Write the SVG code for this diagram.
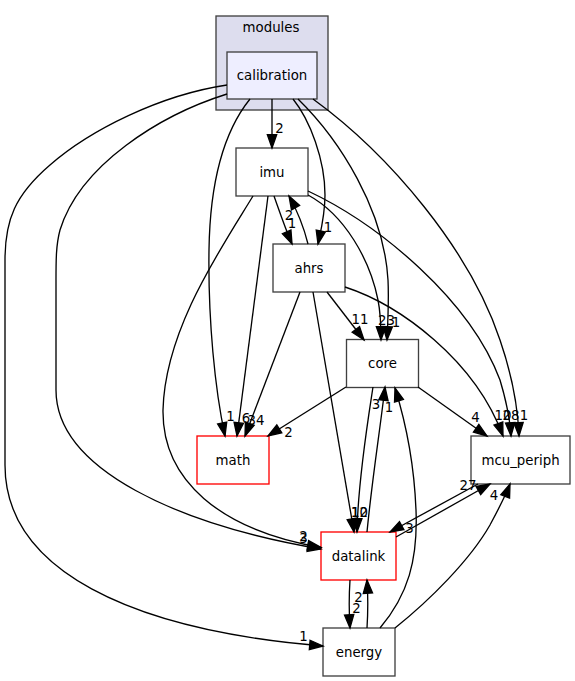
<svg xmlns="http://www.w3.org/2000/svg" width="575" height="681" viewBox="0 0 575 681">
<defs>
<marker id="ah" markerUnits="userSpaceOnUse" markerWidth="16" markerHeight="12" refX="13.33" refY="4.67" orient="auto" overflow="visible">
<path d="M0,0 L13.33,4.67 L0,9.33 z" fill="#000" stroke="#000" stroke-width="1.33"/>
</marker>
</defs>
<style>
.e{fill:none;stroke:#000;stroke-width:1.33;marker-end:url(#ah)}
.n{fill:#fff;stroke:#404040;stroke-width:1.33}
.r{fill:#fff;stroke:#ff0000;stroke-width:1.33}
text{font-family:"DejaVu Sans",sans-serif;font-size:13.33px;fill:#000;text-anchor:middle}
</style>
<rect x="0" y="0" width="575" height="681" fill="#fff"/>
<g id="cluster-modules">
<rect x="216" y="16" width="112" height="94" fill="#ddddee" stroke="#404040" stroke-width="1.33"/>
<text x="271" y="32">modules</text>
</g>
<g id="node-calibration">
<rect x="227" y="52" width="90" height="47" fill="#eeeeff" stroke="#404040" stroke-width="1.33"/>
<text x="272" y="80">calibration</text>
</g>
<g id="node-imu"><rect class="n" x="236" y="148" width="72" height="48"/><text x="272" y="176.5">imu</text></g>
<g id="node-ahrs"><rect class="n" x="273" y="244" width="72" height="48"/><text x="309" y="272.5">ahrs</text></g>
<g id="node-core"><rect class="n" x="346.5" y="339.5" width="72" height="48"/><text x="382.5" y="368">core</text></g>
<g id="node-math"><rect class="r" x="197" y="436" width="72" height="48"/><text x="233" y="464.5">math</text></g>
<g id="node-mcu_periph"><rect class="n" x="471" y="436" width="99" height="48"/><text x="520.5" y="464.5">mcu_periph</text></g>
<g id="node-datalink"><rect class="r" x="321" y="532" width="75" height="48"/><text x="358.5" y="560.5">datalink</text></g>
<g id="node-energy"><rect class="n" x="323" y="628" width="72" height="48"/><text x="359" y="656.5">energy</text></g>
<g id="edges">
<path class="e" d="M272,99 L272,148"/><text x="279.5" y="133">2</text>
<path class="e" d="M293,99 C310,120 325,160 325,195 C325,215 321,230 318,244"/><text x="328" y="232">1</text>
<path class="e" d="M298,99 C340,140 384,210 388,280 C389,300 388,320 387,340"/><text x="396" y="327">1</text>
<path class="e" d="M313,99 C390,155 470,250 500,340 C512,375 518,410 519,436"/><text x="524" y="420">1</text>
<path class="e" d="M250,99 C225,130 210,180 209,250 C208,320 215,390 225,436"/><text x="230.5" y="421">1</text>
<path class="e" d="M227,94 C160,115 80,165 60,230 C56,245 56,260 56,280 L56,390 C56,470 180,525 321,549"/><text x="303.5" y="541">2</text>
<path class="e" d="M227,85 C160,95 90,130 50,165 C15,195 5,220 5,260 L5,465 C5,570 130,630 323,646"/><text x="303.5" y="641">1</text>
<path class="e" d="M253,196 C220,250 165,330 163,410 C162,480 220,530 321,547.5"/><text x="303.5" y="543">3</text>
<path class="e" d="M274,196 C279,210 285,228 292,244"/><text x="292" y="228">1</text>
<path class="e" d="M308,244 C304,228 298,212 289,196"/><text x="289" y="219.5">2</text>
<path class="e" d="M308,195 C345,215 370,260 378,300 C381,315 381,330 381,340"/><text x="386.5" y="325">23</text>
<path class="e" d="M308,191 C380,225 470,300 500,380 C506,400 510,420 511,436"/><text x="511" y="420">28</text>
<path class="e" d="M268,196 L237,436"/><text x="246" y="422.5">6</text>
<path class="e" d="M300,292 L245,436"/><text x="256" y="425">34</text>
<path class="e" d="M327,292 L364,340"/><text x="360" y="324">11</text>
<path class="e" d="M313,292 L354,532"/><text x="359.5" y="517">10</text>
<path class="e" d="M345,287 C400,305 475,360 503,436"/><text x="503" y="420">10</text>
<path class="e" d="M346,387 L268,436"/><text x="288.5" y="436.5">2</text>
<path class="e" d="M418,387 L487,436"/><text x="475.5" y="422">4</text>
<path class="e" d="M373,387 C368,420 358,480 357,532"/><text x="359.5" y="517">12</text>
<path class="e" d="M367,532 C372,480 380,430 385,387"/><text x="376" y="409">3</text>
<path class="e" d="M380,628 C408,595 418,560 416,510 C414,460 405,420 395,388"/><text x="389" y="412">1</text>
<path class="e" d="M396,537 L490,484"/><text x="468" y="490">27</text>
<path class="e" d="M478,484 L390,532"/><text x="409.5" y="533">3</text>
<path class="e" d="M395,628 C430,600 470,560 490,525 C498,510 505,497 510,484"/><text x="494" y="500">4</text>
<path class="e" d="M350,580 C349,595 349,612 350,628"/><text x="356.5" y="612.5">2</text>
<path class="e" d="M367,628 C368,612 368,595 367,580"/><text x="358.5" y="601.5">2</text>
</g>
</svg>
